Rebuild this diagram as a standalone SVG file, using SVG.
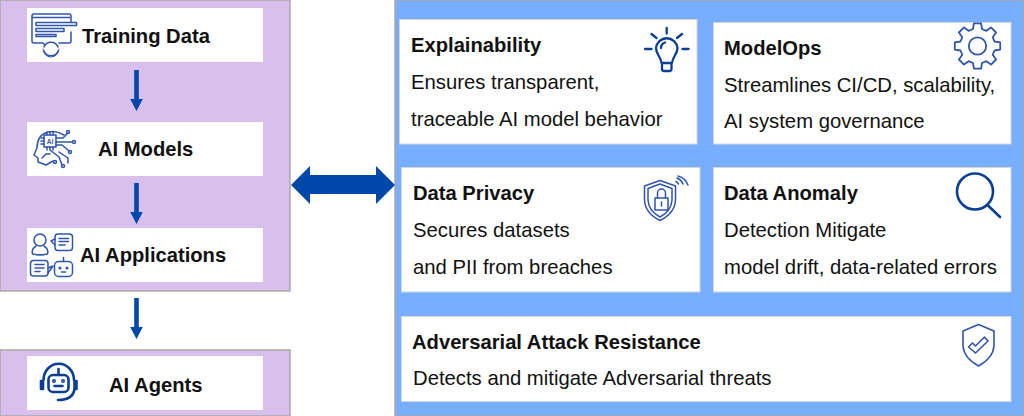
<svg xmlns="http://www.w3.org/2000/svg" width="1024" height="416" viewBox="0 0 1024 416">
<style>
text{font-family:"Liberation Sans",Arial,sans-serif;fill:#111}
.t{font-size:20.2px;font-weight:700}
.h{font-size:20.2px;font-weight:700}
.b{font-size:20.3px}
.panel{fill:#d9bfeb;stroke:#a9a9a9;stroke-width:1.5}
.card{fill:#fff}
.rc{fill:#fff;stroke:#d5d5d5;stroke-width:1}
.ic{fill:none;stroke:#2f55ad;stroke-width:1.5;stroke-linecap:round;stroke-linejoin:round}
.id{fill:none;stroke:#0b3f94;stroke-width:2.300;stroke-linecap:round;stroke-linejoin:round}
.arrow{fill:#0047ab}
</style>
<defs>
<path id="down" class="arrow" d="M-2.300-20H2.300V9H6.300L0 21-6.300 9H-2.300Z"/>
</defs>
<rect class="panel" x="0" y="0" width="290" height="291"/>
<rect class="panel" x="0" y="350" width="290" height="66"/>
<rect x="395" y="0" width="629" height="416" fill="#78aeff" stroke="#a9a9a9" stroke-width="1.5"/>

<g id="connectors">
<use href="#down" x="136.500" y="90"/>
<use href="#down" x="136.500" y="203"/>
<use href="#down" x="136.500" y="318"/>
<path class="arrow" d="M291 185 310 166V175H376V166L395 185 376 204V194H310V204Z"/>
</g>

<g id="training-data">
<rect class="card" x="27" y="8" width="236" height="54"/>
<g class="ic"><path d="M71 22V16Q71 14 69 14H34Q32 14 32 16V41Q32 43 34 43H43L45 45M71 32V41Q71 43 69 43H59"/><path d="M32 17.500H70"/><path d="M36 22.500H76.500V25.500H36ZM36 28.500H64V31.500H36ZM36 34.500H56V36.500H36Z"/><path d="M44 47A7.500 7.500 0 0 1 58 47M58 51A7.500 7.500 0 0 1 44 51"/><path d="M43 49A8 8 0 0 0 59 49" stroke-width="1"/></g>
<text class="t" x="82" y="43">Training Data</text>
</g>
<g id="ai-models">
<rect class="card" x="27" y="122" width="236" height="54"/>
<g class="ic"><path d="M64 135Q56 130 48 132 37 135 37 148L34 155 38 158V162L46 165 53 161"/><rect x="44" y="135" width="12" height="12"/><path d="M47 132V135M50 132V135M53 132V135M47 147V150M50 147V150M53 147V150M41 138H44M41 141H44M41 144H44M56 138H63L68 133M56 142H72M56 145H62L69 151M50 150 59 157 62 165M59 152 68 158V163M42 158 46 154H50"/><circle cx="68" cy="132" r="1.500"/><circle cx="74" cy="142" r="1.500"/><circle cx="70" cy="152" r="1.500"/><circle cx="63" cy="166" r="1.500"/><circle cx="55" cy="162" r="1.500"/></g>
<text x="50" y="143.500" font-size="6.500" font-weight="700" text-anchor="middle" style="fill:#2f55ad">AI</text>
<text class="t" x="98" y="156">AI Models</text>
</g>
<g id="ai-applications">
<rect class="card" x="27" y="228" width="236" height="54"/>
<g class="ic"><circle cx="40" cy="240" r="6"/><path d="M36 246C31 249 32 254 33 254 37 255 43 255 47 254 48 254 49 249 44 246"/><rect x="55" y="234" width="17.500" height="16.500" rx="3"/><path d="M55 239 51 241 55 245M59 238.500H68.500M59 241.500H68.500M59 245H65"/><rect x="30.500" y="260.500" width="17.500" height="15.500" rx="3"/><path d="M48 268 53 266 48 273M35 264.500H44M35 268H44M35 271.500H40"/><rect x="54.500" y="261.500" width="18" height="15" rx="4"/><path d="M63.500 257.500V261.500"/><circle cx="60" cy="268" r=".8"/><circle cx="67" cy="268" r=".8"/><path d="M61.500 272H65.500"/></g>
<text class="t" x="80" y="262">AI Applications</text>
</g>
<g id="ai-agents">
<rect class="card" x="27" y="356" width="236" height="54"/>
<g fill="none" stroke="#0b3f94" stroke-width="2.600" stroke-linecap="round" stroke-linejoin="round"><path d="M43.500 380A15 16 0 0 1 74 380M74.500 389Q73 400 58 400"/><rect x="48.500" y="375" width="20" height="17" rx="4.500"/><path d="M58.500 369V375M54.500 386H62.500"/><rect x="41" y="381" width="2" height="8" fill="#0b3f94"/><rect x="74.500" y="381" width="2" height="8" fill="#0b3f94"/><circle cx="54" cy="381" r=".7"/><circle cx="63" cy="381" r=".7"/></g>
<text class="t" x="109" y="392">AI Agents</text>
</g>

<g id="explainability">
<rect class="rc" x="399.500" y="19.500" width="297.500" height="124.500"/>
<text class="h" x="411" y="52">Explainability</text>
<text class="b" x="411" y="89">Ensures transparent,</text>
<text class="b" x="411" y="126">traceable AI model behavior</text>
<g class="id"><path d="M666.700 28V33.500M651.500 34 656.500 38M682 34 677 38M645 49H651.500M682.500 49H688.500"/><path d="M661.500 63C661 57 656 54 656 48A10.800 10.800 0 0 1 677.500 48C677.500 54 672.500 57 672 63ZM662 63V69Q662 71 664 71H669.500Q671.500 71 671.500 69V63M661 48Q661 44 665 42.500"/></g>
</g>
<g id="modelops">
<rect class="rc" x="713.500" y="22.500" width="297.500" height="121.500"/>
<text class="h" x="724" y="55">ModelOps</text>
<text class="b" x="724" y="92">Streamlines CI/CD, scalability,</text>
<text class="b" x="724" y="128">AI system governance</text>
<g transform="translate(977.500 46)" fill="none" stroke="#2f55ad" stroke-width="1.800" stroke-linejoin="round"><circle r="8.700"/><polygon points="-4.500,-17 -3.600,-22.700 3.600,-22.700 4.500,-17 8.840,-15.200 13.500,-18.600 18.600,-13.500 15.200,-8.840 17,-4.500 22.700,-3.600 22.700,3.600 17,4.500 15.200,8.840 18.600,13.500 13.500,18.600 8.840,15.200 4.500,17 3.600,22.700 -3.600,22.700 -4.500,17 -8.840,15.200 -13.500,18.600 -18.600,13.500 -15.200,8.840 -17,4.500 -22.700,3.600 -22.700,-3.600 -17,-4.500 -15.200,-8.840 -18.600,-13.500 -13.500,-18.600 -8.840,-15.200"/></g>
</g>
<g id="data-privacy">
<rect class="rc" x="401.500" y="167.500" width="298.500" height="124.500"/>
<text class="h" x="413" y="200">Data Privacy</text>
<text class="b" x="413" y="237">Secures datasets</text>
<text class="b" x="413" y="274">and PII from breaches</text>
<g class="ic"><path d="M660 180.500 644.500 186V200Q645 213 660 220.500 675 213 675.500 200V186ZM660 184 648 188.500V200Q648.500 211 660 217 671.500 211 672 200V188.500Z"/><rect x="655" y="198" width="13" height="12"/><path d="M657.500 198V193A4 4 0 0 1 665.500 193V198M661.500 202V206M678.500 184A7 7 0 0 0 676 181.500M683 184A11 11 0 0 0 677 178M688 185A15 15 0 0 0 678 176"/></g>
</g>
<g id="data-anomaly">
<rect class="rc" x="713.500" y="167.500" width="297.500" height="124.500"/>
<text class="h" x="724" y="200">Data Anomaly</text>
<text class="b" x="724" y="237">Detection Mitigate</text>
<text class="b" x="724" y="274">model drift, data-related errors</text>
<g fill="none" stroke="#0b3f94" stroke-width="2.600" stroke-linecap="round"><circle cx="975" cy="191.500" r="18"/><path d="M987.500 205 1000 217"/></g>
</g>
<g id="adversarial-attack-resistance">
<rect class="rc" x="401.500" y="316.500" width="609.500" height="85"/>
<text class="h" x="412" y="349">Adversarial Attack Resistance</text>
<text class="b" x="413" y="385">Detects and mitigate Adversarial threats</text>
<path d="M978.500 324.500 963 331V346Q964 358 978.500 366 993 358 994 346V331ZM968.500 347 972.500 343 975.500 346 984.500 337 988 341 975.500 353Z" fill="none" stroke="#2f55ad" stroke-width="1.600" stroke-linejoin="round"/>
</g>
</svg>
